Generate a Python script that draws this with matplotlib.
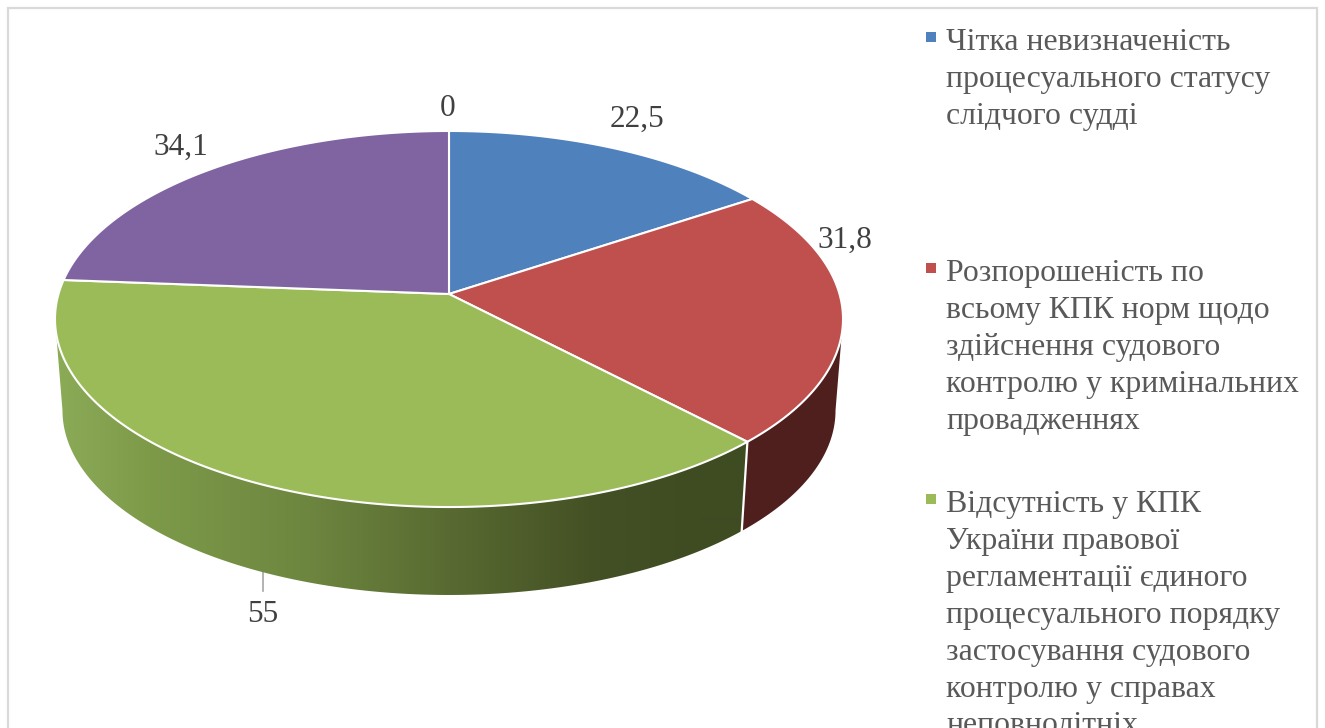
import numpy as np
import matplotlib
matplotlib.use('Agg')
import matplotlib.pyplot as plt
from matplotlib.patches import Polygon, Rectangle
from matplotlib.colors import to_rgb

values = [22.5, 31.8, 55, 34.1, 0]
value_labels = ['22,5', '31,8', '55', '34,1', '0']
slice_colors = ['#4f81bd', '#bf504d', '#9bbb59', '#8064a2', '#4bacc6']
legend_lines = [
    ['Чітка невизначеність', 'процесуального статусу', 'слідчого судді'],
    ['Розпорошеність по', 'всьому КПК норм щодо', 'здійснення судового',
     'контролю у кримінальних', 'провадженнях'],
    ['Відсутність у КПК', 'України правової', 'регламентації єдиного',
     'процесуального порядку', 'застосування судового',
     'контролю у справах', 'неповнолітніх'],
]

plt.rcParams['font.family'] = ['Liberation Serif', 'DejaVu Serif']

# pie geometry in pixels, perspective tilt of the top face
cx, cy = 449, 294
bx, by, k = 390.5, 184.7, 0.133
side_scale, side_y = 0.981, 386
right_edge_deg = 97.6
left_edge_deg = 262.4


def top_point(deg):
    t = np.radians(deg)
    w = 1 + k * np.cos(t)
    return bx * np.sin(t) / w, -by * np.cos(t) / w


def top_xy(deg):
    x, y = top_point(deg)
    return np.column_stack([cx + x, cy + y])


def bottom_xy(deg):
    x, y = top_point(deg)
    return np.column_stack([cx + side_scale * x, side_y + side_scale * y])


def wall_outline(a, b):
    angles = np.linspace(a, b, 200)
    return np.vstack([top_xy(angles), bottom_xy(angles)[::-1]])


fig = plt.figure(figsize=(13.25, 7.28), dpi=100)
ax = fig.add_axes([0, 0, 1, 1])
ax.set_xlim(0, 1325)
ax.set_ylim(728, 0)
ax.axis('off')

ax.add_patch(Rectangle((8, 8), 1309, 740, facecolor='white', edgecolor='#d9d9d9', linewidth=1.6))

edges = np.cumsum([0] + values) / np.sum(values) * 360

# walls, only red and green can be seen
ax.add_patch(Polygon(wall_outline(right_edge_deg, edges[2]), closed=True,
                     facecolor='#4f1f1e', edgecolor='none', zorder=2))

stops_x = [55, 150, 300, 450, 600, 700, 760]
stops_c = [to_rgb(c) for c in ['#8cab57', '#7d9a49', '#6e8740', '#586a31', '#434f24', '#3f4c22', '#3f4c22']]
grad_x = np.arange(40, 780)
gradient = np.array([[np.interp(grad_x, stops_x, [s[i] for s in stops_c]) for i in range(3)]])
gradient = np.transpose(gradient, (0, 2, 1))
green_wall = Polygon(wall_outline(edges[2], left_edge_deg), closed=True, facecolor='none', edgecolor='none')
ax.add_patch(green_wall)
img = ax.imshow(gradient, extent=(40, 780, 620, 250), aspect='auto', interpolation='bilinear', zorder=2)
img.set_clip_path(green_wall)
ax.set_xlim(0, 1325)
ax.set_ylim(728, 0)

seam_top = top_xy(np.array([edges[2]]))[0]
seam_bot = bottom_xy(np.array([edges[2]]))[0]
ax.plot([seam_top[0], seam_bot[0]], [seam_top[1], seam_bot[1]], color='white', lw=1.6, zorder=3)

# top faces
for i in range(len(values)):
    if values[i] == 0:
        continue
    angles = np.linspace(edges[i], edges[i + 1], 200)
    pts = np.vstack([[cx, cy], top_xy(angles)])
    ax.add_patch(Polygon(pts, closed=True, facecolor=slice_colors[i], edgecolor='white',
                         linewidth=1.5, joinstyle='round', zorder=4))

# value labels
label_pos = [(637, 119), (845, 240), (263, 614), (181, 147), (448, 109)]
for lab, pos in zip(value_labels, label_pos):
    ax.text(pos[0], pos[1], lab, fontsize=22.5, color='#404040', ha='center', va='center', zorder=6)
ax.plot([263, 263], [571, 591], color='#a6a6a6', lw=1.2, zorder=1)

# legend, cut by the bottom of the picture like the source
legend_y = [50, 281, 512]
for lines, y0, col in zip(legend_lines, legend_y, slice_colors):
    ax.add_patch(Rectangle((926, y0 - 18), 10, 10, facecolor=col, edgecolor='none', zorder=5))
    for n, line in enumerate(lines):
        ax.text(946, y0 + n * 36.9, line, fontsize=22.85, color='#595959', ha='left', va='baseline', zorder=5)

fig.savefig('out.png', dpi=100)
